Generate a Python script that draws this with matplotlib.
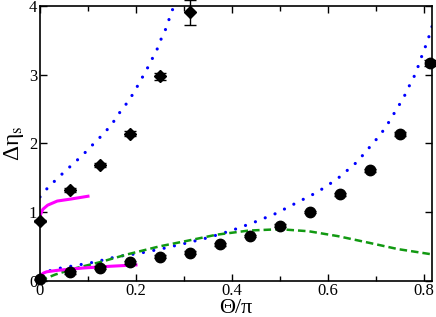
import matplotlib
matplotlib.use("Agg")
import matplotlib.pyplot as plt
from matplotlib.ticker import MultipleLocator

plt.rcParams['font.family'] = ['Liberation Serif', 'DejaVu Serif']
plt.rcParams['mathtext.fontset'] = 'stix'

# measured points (theta/pi)
x_up = [0.0, 0.0625, 0.125, 0.1875, 0.25, 0.3125]
y_up = [0.87, 1.32, 1.68, 2.14, 2.98, 3.91]
e_up = [0.02, 0.03, 0.03, 0.04, 0.05, 0.18]

x_lo = [0.0, 0.0625, 0.125, 0.1875, 0.25, 0.3125, 0.375, 0.4375,
        0.5, 0.5625, 0.625, 0.6875, 0.75, 0.8125]
y_lo = [0.02, 0.12, 0.19, 0.27, 0.35, 0.41, 0.53, 0.65,
        0.80, 1.00, 1.26, 1.61, 2.14, 3.17]
e_lo = [0.01, 0.02, 0.02, 0.02, 0.02, 0.02, 0.02, 0.02,
        0.02, 0.02, 0.02, 0.02, 0.03, 0.05]

# blue dotted curves
bu_x = [0.0, 0.017, 0.035, 0.053, 0.072, 0.089, 0.107, 0.124, 0.140, 0.156,
        0.169, 0.185, 0.198, 0.210, 0.222, 0.233, 0.244, 0.253, 0.263, 0.271, 0.279]
bu_y = [1.22, 1.36, 1.48, 1.60, 1.72, 1.83, 1.96, 2.08, 2.20, 2.34,
        2.48, 2.62, 2.77, 2.92, 3.07, 3.22, 3.37, 3.53, 3.68, 3.85, 4.0]

bl_x = [0.0, 0.017, 0.04, 0.113, 0.16, 0.208, 0.257, 0.306, 0.352, 0.399,
        0.446, 0.492, 0.536, 0.578, 0.619, 0.656, 0.673, 0.69, 0.706, 0.72,
        0.733, 0.746, 0.758, 0.769, 0.78, 0.789, 0.797, 0.806, 0.814, 0.82]
bl_y = [0.10, 0.14, 0.18, 0.27, 0.35, 0.40, 0.47, 0.55, 0.63, 0.73,
        0.85, 0.98, 1.14, 1.29, 1.48, 1.70, 1.83, 1.97, 2.10, 2.23,
        2.38, 2.53, 2.67, 2.83, 2.98, 3.14, 3.30, 3.46, 3.63, 3.78]

# green dashed curve
g_x = [0.0, 0.032, 0.076, 0.125, 0.18, 0.249, 0.306, 0.368, 0.435, 0.5,
       0.56, 0.62, 0.687, 0.746, 0.82]
g_y = [0.0, 0.09, 0.185, 0.27, 0.38, 0.50, 0.58, 0.67, 0.73, 0.75,
       0.72, 0.65, 0.55, 0.46, 0.38]

# magenta solid curves
mu_x = [0.0, 0.002, 0.006, 0.016, 0.036, 0.065, 0.1]
mu_y = [0.92, 0.98, 1.04, 1.10, 1.16, 1.19, 1.23]
ml_x = [0.0, 0.002, 0.007, 0.014, 0.035, 0.09, 0.146, 0.2]
ml_y = [0.02, 0.07, 0.11, 0.13, 0.15, 0.185, 0.21, 0.23]

fig = plt.figure(figsize=(4.36, 3.17), dpi=100)
ax = fig.add_axes([0.0917, 0.1145, 0.8993, 0.8665])

dot = (0, (0.01, 3.3))
ax.plot(bu_x, bu_y, color='#0000ff', lw=2.3, linestyle=dot, dash_capstyle='round')
ax.plot(bl_x, bl_y, color='#0000ff', lw=2.3, linestyle=dot, dash_capstyle='round')
ax.plot(g_x, g_y, color='#119911', lw=1.8, linestyle=(0, (3, 1.6)))
ax.plot(mu_x, mu_y, color='#ff00ff', lw=2.2)
ax.plot(ml_x, ml_y, color='#ff00ff', lw=2.2)

ax.errorbar(x_up, y_up, yerr=e_up, fmt='D', color='k', ms=6, capsize=4,
            elinewidth=1, capthick=1, zorder=5, clip_on=False)
ax.errorbar(x_lo, y_lo, yerr=e_lo, fmt='o', color='k', ms=7.5, capsize=4,
            elinewidth=1, capthick=1, zorder=5, clip_on=False)

ax.set_xlim(0, 0.817)
ax.set_ylim(0, 4)
ax.xaxis.set_major_locator(MultipleLocator(0.2))
ax.xaxis.set_minor_locator(MultipleLocator(0.1))
ax.yaxis.set_major_locator(MultipleLocator(1))
ax.tick_params(which='both', direction='in', top=True, right=True, labelsize=12, width=1, pad=2)
ax.tick_params(which='major', length=5)
ax.tick_params(which='minor', length=3.5)
for s in ax.spines.values():
    s.set_linewidth(1.2)
ax.xaxis.set_major_formatter(plt.FuncFormatter(lambda v, p: '0' if abs(v) < 1e-9 else f'{v:.1f}'))

ax.set_xlabel('Θ/π', fontsize=16, labelpad=0)
ax.set_ylabel('Δη$_{\\rm s}$', fontsize=17, labelpad=2)

fig.savefig('out.png', dpi=100)
